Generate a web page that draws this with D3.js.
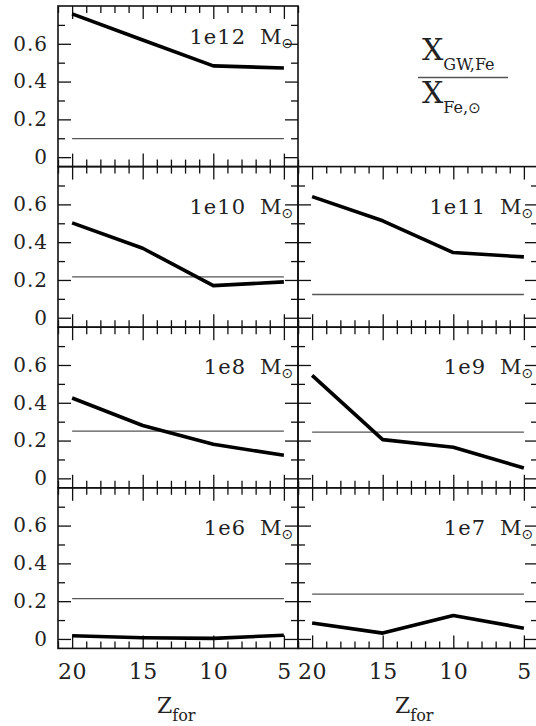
<!DOCTYPE html>
<html><head><meta charset="utf-8">
<script src="https://cdn.jsdelivr.net/npm/d3@7"></script>
<style>
body{margin:0;background:#fff}
svg{display:block}
text{font-family:"DejaVu Serif",serif;fill:#222}
</style>
</head><body><svg id="c" width="536" height="726"></svg>
<script>
// ---- data ----
const zFor = [20, 15, 10, 5];
const massLabels = ["1e12", "1e10", "1e11", "1e8", "1e9", "1e6", "1e7"];
const gw1e12 = [0.758, 0.620, 0.483, 0.472];
const gw1e10 = [0.502, 0.368, 0.170, 0.190];
const gw1e11 = [0.641, 0.513, 0.345, 0.322];
const gw1e8  = [0.425, 0.280, 0.180, 0.122];
const gw1e9  = [0.545, 0.205, 0.165, 0.055];
const gw1e6  = [0.017, 0.006, 0.003, 0.020];
const gw1e7  = [0.084, 0.031, 0.124, 0.057];
const refValues = [0.098, 0.216, 0.123, 0.250, 0.245, 0.213, 0.237];
const yTickValues = [0, 0.2, 0.4, 0.6];
const yTickLabels = ["0", "0.2", "0.4", "0.6"];
const xTickLabels = ["20", "15", "10", "5"];

const series = [gw1e12, gw1e10, gw1e11, gw1e8, gw1e9, gw1e6, gw1e7];

// ---- layout ----
const cells = [[0,0],[1,0],[1,1],[2,0],[2,1],[3,0],[3,1]]; // [row, col]
const labelDy = [37.5, 47, 47, 47, 47, 47, 47];
const colLeft = [58, 298], colW = 240;
const rowTop0 = 6, rowH = 160.6;

const svg = d3.select("#c");
const xDomain = [21, 4], yDomain = [-0.05, 0.8];
const xMinor = d3.range(4, 22).filter(v => !zFor.includes(v));
const yMinor = [0.1, 0.3, 0.5, 0.7];
const FONT = '"DejaVu Serif",serif';

function styleAxis(g) {
  g.select(".domain").remove();
  g.selectAll(".tick line").attr("stroke", "#111").attr("stroke-width", 1.3);
}

series.forEach((vals, i) => {
  const [r, c] = cells[i];
  const left = colLeft[c], right = left + colW;
  const top = rowTop0 + r * rowH, bottom = top + rowH;
  const x = d3.scaleLinear().domain(xDomain).range([left, right]);
  const y = d3.scaleLinear().domain(yDomain).range([bottom, top]);
  const g = svg.append("g");

  const showY = c === 0, showX = r === 3;
  const ax = [
    [d3.axisLeft(y).tickValues(yTickValues).tickSizeInner(-13).tickSizeOuter(0).tickPadding(10)
       .tickFormat((d, k) => showY ? yTickLabels[k] : ""), `translate(${left},0)`, 20, 1],
    [d3.axisLeft(y).tickValues(yMinor).tickSizeInner(-7).tickSizeOuter(0).tickFormat(""), `translate(${left},0)`],
    [d3.axisRight(y).tickValues(yTickValues).tickSizeInner(-13).tickSizeOuter(0).tickFormat(""), `translate(${right},0)`],
    [d3.axisRight(y).tickValues(yMinor).tickSizeInner(-7).tickSizeOuter(0).tickFormat(""), `translate(${right},0)`],
    [d3.axisTop(x).tickValues(zFor).tickSizeInner(-13).tickSizeOuter(0).tickFormat(""), `translate(0,${top})`],
    [d3.axisTop(x).tickValues(xMinor).tickSizeInner(-7).tickSizeOuter(0).tickFormat(""), `translate(0,${top})`],
    [d3.axisBottom(x).tickValues(zFor).tickSizeInner(-13).tickSizeOuter(0).tickPadding(15)
       .tickFormat((d, k) => showX ? xTickLabels[k] : ""), `translate(0,${bottom})`, 22, 0.5],
    [d3.axisBottom(x).tickValues(xMinor).tickSizeInner(-7).tickSizeOuter(0).tickFormat(""), `translate(0,${bottom})`]
  ];
  ax.forEach(([a, tr, fs, ls]) => {
    const ag = g.append("g").attr("transform", tr).call(a).call(styleAxis);
    ag.selectAll("text").attr("font-family", FONT).attr("font-size", fs || 20)
      .attr("fill", "#222").attr("letter-spacing", ls || 0);
  });

  g.append("rect").attr("x", left).attr("y", top).attr("width", colW).attr("height", rowH)
    .attr("fill", "none").attr("stroke", "#111").attr("stroke-width", 1.6);

  g.append("line").attr("x1", x(zFor[0])).attr("x2", x(zFor[zFor.length-1]))
    .attr("y1", y(refValues[i])).attr("y2", y(refValues[i]))
    .attr("stroke", "#555").attr("stroke-width", 1.3);

  g.append("path").datum(vals)
    .attr("d", d3.line().x((d, k) => x(zFor[k])).y(d => y(d)))
    .attr("fill", "none").attr("stroke", "#000").attr("stroke-width", 3.6)
    .attr("stroke-linejoin", "round");

  const ly = top + labelDy[i];
  g.append("text").attr("x", right - 52).attr("y", ly).attr("text-anchor", "end")
    .attr("font-size", 21).attr("letter-spacing", 1).text(massLabels[i]);
  const mt = g.append("text").attr("x", right - 38).attr("y", ly).attr("font-size", 21);
  mt.append("tspan").text("M");
  mt.append("tspan").attr("dy", 4).attr("font-size", 14).attr("font-family", '"DejaVu Sans",sans-serif').text("⊙");
});

// fraction label
const fr = svg.append("g");
const num = fr.append("text").attr("x", 422).attr("y", 60);
num.append("tspan").attr("font-size", 30).text("X");
num.append("tspan").attr("dy", 10).attr("font-size", 16).text("GW,Fe");
fr.append("line").attr("x1", 418).attr("x2", 508).attr("y1", 77.5).attr("y2", 77.5)
  .attr("stroke", "#555").attr("stroke-width", 1.3);
const den = fr.append("text").attr("x", 422).attr("y", 103);
den.append("tspan").attr("font-size", 30).text("X");
den.append("tspan").attr("dy", 10).attr("font-size", 16).text("Fe,");
den.append("tspan").attr("font-size", 15).attr("font-family", '"DejaVu Sans",sans-serif').text("⊙");

// axis titles
[0, 1].forEach(c => {
  const cx = colLeft[c] + colW / 2 + (c === 0 ? 2 : 0);
  const t = svg.append("text").attr("x", cx - 23).attr("y", 713);
  t.append("tspan").attr("font-size", 22).text("Z");
  t.append("tspan").attr("dy", 8).attr("font-size", 16).text("for");
});
</script>
</body></html>
